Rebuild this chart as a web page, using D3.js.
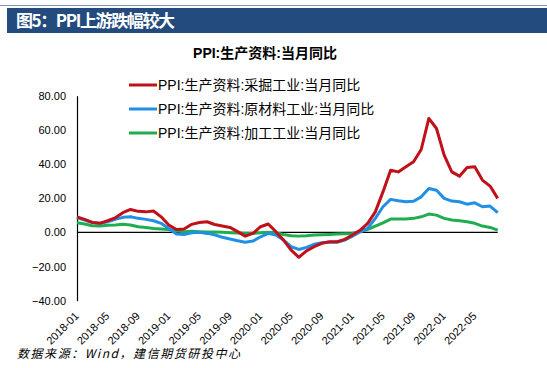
<!DOCTYPE html>
<html><head><meta charset="utf-8">
<script src="https://cdn.jsdelivr.net/npm/d3@7"></script>
<style>
body{margin:0;background:#fff;}
svg{display:block;}
</style></head>
<body>
<svg id="chart" width="547" height="368"></svg>
<script>
const pageTitle = "图5：PPI上游跌幅较大";
const chartTitle = "PPI:生产资料:当月同比";
const sourceText = "数据来源：Wind，建信期货研投中心";
const seriesNames = ["PPI:生产资料:采掘工业:当月同比","PPI:生产资料:原材料工业:当月同比","PPI:生产资料:加工工业:当月同比"];
const seriesColors = ["#c0111a","#1f90e6","#1fae4f"];

// months 2018-01 .. 2022-08
const months = [];
for (let y = 2018; y <= 2022; y++) for (let m = 1; m <= 12; m++) {
  if (y === 2022 && m > 8) break;
  months.push(y + "-" + String(m).padStart(2, "0"));
}
const tickLabels = ["2018-01","2018-05","2018-09","2019-01","2019-05","2019-09","2020-01","2020-05","2020-09","2021-01","2021-05","2021-09","2022-01","2022-05"];
const yTicks = [-40,-20,0,20,40,60,80];

const mining = [9.1,7.6,5.8,5.3,6.8,8.5,11.5,13.4,12.3,12.0,12.5,9.1,
  4.3,1.7,2.0,4.7,5.8,6.2,4.6,3.7,2.9,0.4,-2.2,-0.6,
  3.3,4.9,0.4,-4.5,-10.4,-14.6,-10.8,-8.4,-6.4,-5.5,-5.5,-4.1,
  -1.6,1.2,5.3,12.0,23.7,36.4,35.4,38.4,41.3,48.5,66.7,60.8,
  45.2,35.4,32.9,38.0,38.4,30.6,27.1,19.9];
const raw = [8.5,7.2,5.8,5.3,6.2,7.6,8.8,9.1,8.2,7.6,6.8,5.3,
  2.3,-1.0,-1.2,-0.2,0.0,-0.6,-1.4,-2.9,-3.9,-4.9,-5.8,-5.1,
  -2.6,-0.6,-1.6,-4.5,-8.4,-10.0,-8.8,-7.0,-6.1,-5.8,-5.8,-4.5,
  -2.2,0.2,2.3,8.2,15.0,19.3,18.5,17.9,18.2,20.8,25.7,24.7,
  19.9,18.3,17.9,16.5,17.3,15.0,15.4,11.5];
const processing = [5.6,4.9,3.9,3.7,4.1,4.3,4.7,4.3,3.3,2.9,2.3,2.0,
  1.7,0.9,0.4,0.6,0.4,0.2,0.2,0.0,-0.2,-0.4,-0.6,-0.6,
  -0.2,0.0,-0.2,-1.2,-2.0,-2.2,-2.0,-1.6,-1.4,-1.2,-1.0,-0.8,
  -0.6,0.6,1.7,3.7,5.6,7.8,7.8,7.8,8.2,9.1,10.7,10.1,
  8.2,7.2,6.8,6.2,5.3,3.7,2.9,1.3];

const svg = d3.select("#chart");
const font = "Arial, 'Liberation Sans', 'Noto Sans CJK SC', sans-serif";

// top decorative line
svg.append("line").attr("x1",0).attr("x2",547).attr("y1",5.5).attr("y2",5.5)
  .attr("stroke","#8096b8").attr("stroke-width",1);

// banner
svg.append("rect").attr("x",7).attr("y",8).attr("width",540).attr("height",25).attr("fill","#234b7d");
svg.append("text").attr("x",16).attr("y",27).text(pageTitle)
  .attr("fill","#fff").attr("font-size",17).attr("font-weight","bold")
  .attr("textLength",159).attr("lengthAdjust","spacing")
  .attr("font-family","'Noto Sans CJK SC', sans-serif");

// chart title
svg.append("text").attr("x",265).attr("y",58).attr("text-anchor","middle").text(chartTitle)
  .attr("font-size",14).attr("font-weight","bold").attr("font-family",font).attr("fill","#000");

const x = d3.scalePoint().domain(months).range([77, 497.7]);
const y = d3.scaleLinear().domain([-40, 80]).range([300.7, 95.7]);

// y axis
const yAxis = svg.append("g").attr("transform","translate(77,0)")
  .call(d3.axisLeft(y).tickValues(yTicks).tickSize(0).tickPadding(11).tickFormat(d3.format(".2f")));
yAxis.select(".domain").attr("stroke","#000").attr("stroke-width",1.2);
yAxis.selectAll("text").attr("font-size",11).attr("font-family",font).attr("fill","#000");

// x axis labels
const xAxis = svg.append("g").attr("transform","translate(0,300.7)")
  .call(d3.axisBottom(x).tickValues(tickLabels).tickSize(0).tickPadding(0));
xAxis.select(".domain").remove();
xAxis.selectAll("text")
  .attr("font-size",11).attr("font-family",font).attr("fill","#000")
  .attr("text-anchor","end")
  .attr("dy",0)
  .attr("transform", "translate(2,16) rotate(-45)");

// zero line
svg.append("line").attr("x1",77).attr("x2",497.7).attr("y1",y(0)).attr("y2",y(0))
  .attr("stroke","#000").attr("stroke-width",1.2);

const line = d3.line().x((d,i) => x(months[i])).y(d => y(d));
const data = [mining, raw, processing];
[2,1,0].forEach(k => {
  svg.append("path").datum(data[k]).attr("d", line)
    .attr("fill","none").attr("stroke",seriesColors[k]).attr("stroke-width",3)
    .attr("stroke-linejoin","round");
});

// legend
const legY = [85, 109, 133];
seriesNames.forEach((n, k) => {
  svg.append("line").attr("x1",129).attr("x2",157).attr("y1",legY[k]).attr("y2",legY[k])
    .attr("stroke",seriesColors[k]).attr("stroke-width",3);
  svg.append("text").attr("x",158).attr("y",legY[k]+5).text(n)
    .attr("font-size",14).attr("font-family",font).attr("fill","#000");
});

// source
svg.append("text").attr("x",17).attr("y",358).text(sourceText)
  .attr("font-size",12).attr("font-style","italic")
  .attr("textLength",223).attr("lengthAdjust","spacing")
  .attr("font-family","'Noto Sans CJK SC', sans-serif").attr("fill","#000");
</script>
</body></html>
